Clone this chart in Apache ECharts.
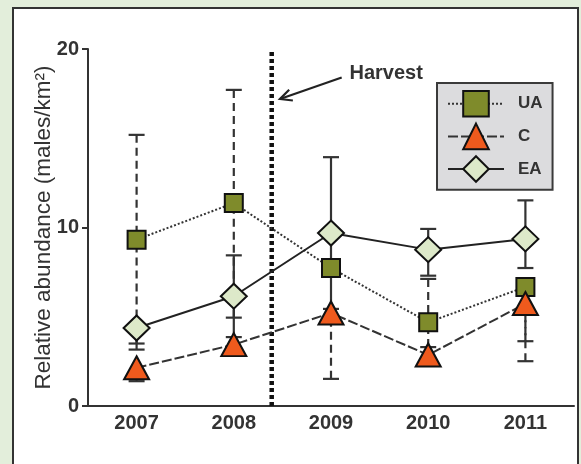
<!DOCTYPE html>
<html>
<head>
<meta charset="utf-8">
<script src="https://cdn.jsdelivr.net/npm/echarts@6/dist/echarts.min.js"></script>
<style>
  html, body { margin: 0; padding: 0; background: #e3eedb; }
  #chart { width: 581px; height: 464px; }
</style>
</head>
<body>
<div id="chart"></div>
<script>
// Survey years
const years = ['2007', '2008', '2009', '2010', '2011'];

// UA: mean and error-bar ends
const uaMean  = [9.32, 11.37, 7.73, 4.69, 6.67];
const uaUpper = [15.19, 17.71, 7.73, 7.12, 6.67];
const uaLower = [3.50, 4.95, 7.73, 3.30, 3.63];

// C: mean and error-bar ends
const cMean  = [2.14, 3.44, 5.21, 2.86, 5.74];
const cUpper = [2.14, 3.44, 5.21, 2.86, 5.74];
const cLower = [1.39, 3.44, 1.52, 2.86, 2.51];

// EA: mean and error-bar ends
const eaMean  = [4.37, 6.15, 9.69, 8.76, 9.36];
const eaUpper = [4.37, 8.44, 13.94, 9.92, 11.52];
const eaLower = [3.16, 3.86, 5.44, 7.30, 7.73];

// y-axis ticks
const yTicks = [0, 10, 20];

// Harvest marker, on the year-index scale (0 = 2007)
const harvestAt = 1.39;
const harvestArrow = [2.11, 18.4, 1.475, 17.2];   // tail x, tail y, tip x, tip y
const harvestLabel = ['Harvest', 2.19, 18.65];

const FONT = "'Liberation Sans', Arial, Helvetica, sans-serif";
const INK = '#333';

function errorData(mean, lower, upper) {
  return mean.map((m, i) => [i, m, lower[i], upper[i]]);
}

function errorBars(dash) {
  return function (params, api) {
    const i = api.value(0), m = api.value(1), lo = api.value(2), hi = api.value(3);
    const pm = api.coord([i, m]);
    const children = [];
    const cap = 8;
    [lo, hi].forEach(v => {
      if (Math.abs(v - m) < 1e-9) return;
      const pv = api.coord([i, v]);
      children.push({
        type: 'line',
        shape: { x1: pv[0], y1: pv[1], x2: pm[0], y2: pm[1] },
        style: { stroke: INK, lineWidth: 2.2, lineDash: dash }
      });
      children.push({
        type: 'line',
        shape: { x1: pv[0] - cap, y1: pv[1], x2: pv[0] + cap, y2: pv[1] },
        style: { stroke: INK, lineWidth: 2.2 }
      });
    });
    return { type: 'group', children: children };
  };
}

const chart = echarts.init(document.getElementById('chart'), null, { renderer: 'canvas' });

chart.setOption({
  backgroundColor: '#e3eedb',
  animation: false,
  textStyle: { fontFamily: FONT },
  graphic: [{
    type: 'rect',
    z: -10,
    shape: { x: 13, y: 8, width: 565, height: 470 },
    style: { fill: '#ffffff', stroke: INK, lineWidth: 2 }
  }],
  grid: { left: 88, right: 7, top: 49, bottom: 58, containLabel: false },
  legend: {
    orient: 'vertical',
    left: 437,
    top: 83,
    padding: [7, 10, 7, 10],
    itemWidth: 56,
    itemHeight: 32,
    itemGap: 5,
    backgroundColor: '#dcdcde',
    borderColor: '#3a3a3a',
    borderWidth: 2,
    borderRadius: 0,
    textStyle: { fontFamily: FONT, fontSize: 17, fontWeight: 'bold', color: INK, padding: [0, 0, 0, 9] },
    data: ['UA', 'C', 'EA']
  },
  xAxis: [{
    type: 'category',
    data: years,
    boundaryGap: true,
    axisLine: { onZero: false, lineStyle: { color: INK, width: 2 } },
    axisTick: { alignWithLabel: true, length: 5, lineStyle: { color: INK, width: 2 } },
    axisLabel: { fontFamily: FONT, fontSize: 20, fontWeight: 'bold', color: INK, margin: 7 }
  }, {
    type: 'value',
    min: -0.5,
    max: 4.5,
    show: false
  }],
  yAxis: {
    type: 'value',
    min: yTicks[0],
    max: yTicks[yTicks.length - 1],
    interval: yTicks[1] - yTicks[0],
    name: 'Relative abundance (males/km²)',
    nameLocation: 'middle',
    nameGap: 33,
    nameMoveOverlap: false,
    nameTextStyle: { fontFamily: FONT, fontSize: 22.5, color: INK },
    axisLine: { show: true, onZero: false, lineStyle: { color: INK, width: 2 } },
    axisTick: { show: true, length: 6, lineStyle: { color: INK, width: 2 } },
    splitLine: { show: false },
    axisLabel: { fontFamily: FONT, fontSize: 20, fontWeight: 'bold', color: INK, margin: 9 }
  },
  series: [
    // harvest line
    {
      type: 'custom',
      xAxisIndex: 1,
      silent: true,
      clip: false,
      z: 1,
      data: [[harvestAt, yTicks[0], yTicks[yTicks.length - 1]]],
      renderItem: function (params, api) {
        const a = api.coord([api.value(0), api.value(1)]);
        const b = api.coord([api.value(0), api.value(2)]);
        return {
          type: 'line',
          shape: { x1: a[0], y1: a[1], x2: b[0], y2: b[1] },
          style: { stroke: '#111', lineWidth: 4.5, lineDash: [4, 3] }
        };
      }
    },
    // harvest arrow and label
    {
      type: 'custom',
      xAxisIndex: 1,
      silent: true,
      clip: false,
      z: 6,
      data: [[harvestArrow[0], harvestArrow[1], harvestArrow[2], harvestArrow[3], harvestLabel[1], harvestLabel[2]]],
      renderItem: function (params, api) {
        const t = api.coord([api.value(0), api.value(1)]);
        const h = api.coord([api.value(2), api.value(3)]);
        const lp = api.coord([api.value(4), api.value(5)]);
        const ang = Math.atan2(h[1] - t[1], h[0] - t[0]);
        const len = 13, spread = 0.45;
        const w1 = [h[0] - len * Math.cos(ang - spread), h[1] - len * Math.sin(ang - spread)];
        const w2 = [h[0] - len * Math.cos(ang + spread), h[1] - len * Math.sin(ang + spread)];
        return {
          type: 'group',
          children: [
            { type: 'line', shape: { x1: t[0], y1: t[1], x2: h[0], y2: h[1] }, style: { stroke: '#222', lineWidth: 2.2 } },
            { type: 'polyline', shape: { points: [w1, h, w2] }, style: { stroke: '#222', lineWidth: 2.2, fill: null } },
            { type: 'text', x: lp[0], y: lp[1], style: { text: harvestLabel[0], font: 'bold 20px ' + FONT, fill: INK, textAlign: 'left', textVerticalAlign: 'middle' } }
          ]
        };
      }
    },
    // error bars
    {
      type: 'custom', name: 'UA err', silent: true, z: 2,
      encode: { x: 0, y: [2, 3] },
      data: errorData(uaMean, uaLower, uaUpper),
      renderItem: errorBars([8, 5])
    },
    {
      type: 'custom', name: 'C err', silent: true, z: 2,
      encode: { x: 0, y: [2, 3] },
      data: errorData(cMean, cLower, cUpper),
      renderItem: errorBars([8, 5])
    },
    {
      type: 'custom', name: 'EA err', silent: true, z: 2,
      encode: { x: 0, y: [2, 3] },
      data: errorData(eaMean, eaLower, eaUpper),
      renderItem: errorBars(null)
    },
    // means
    {
      name: 'UA', type: 'line', z: 3,
      data: uaMean,
      symbol: 'rect', symbolSize: 18,
      lineStyle: { color: INK, width: 2, type: [2, 2] },
      itemStyle: { color: '#7f8b2b', borderColor: '#111', borderWidth: 2 }
    },
    {
      name: 'C', type: 'line', z: 4,
      data: cMean,
      symbol: 'triangle', symbolSize: [25, 23],
      lineStyle: { color: INK, width: 2, type: [10, 3] },
      itemStyle: { color: '#ef5a1d', borderColor: '#111', borderWidth: 2 }
    },
    {
      name: 'EA', type: 'line', z: 5,
      data: eaMean,
      symbol: 'diamond', symbolSize: [26, 25],
      lineStyle: { color: '#222', width: 2 },
      itemStyle: { color: '#dde9c9', borderColor: '#111', borderWidth: 2 }
    }
  ]
});
</script>
</body>
</html>
